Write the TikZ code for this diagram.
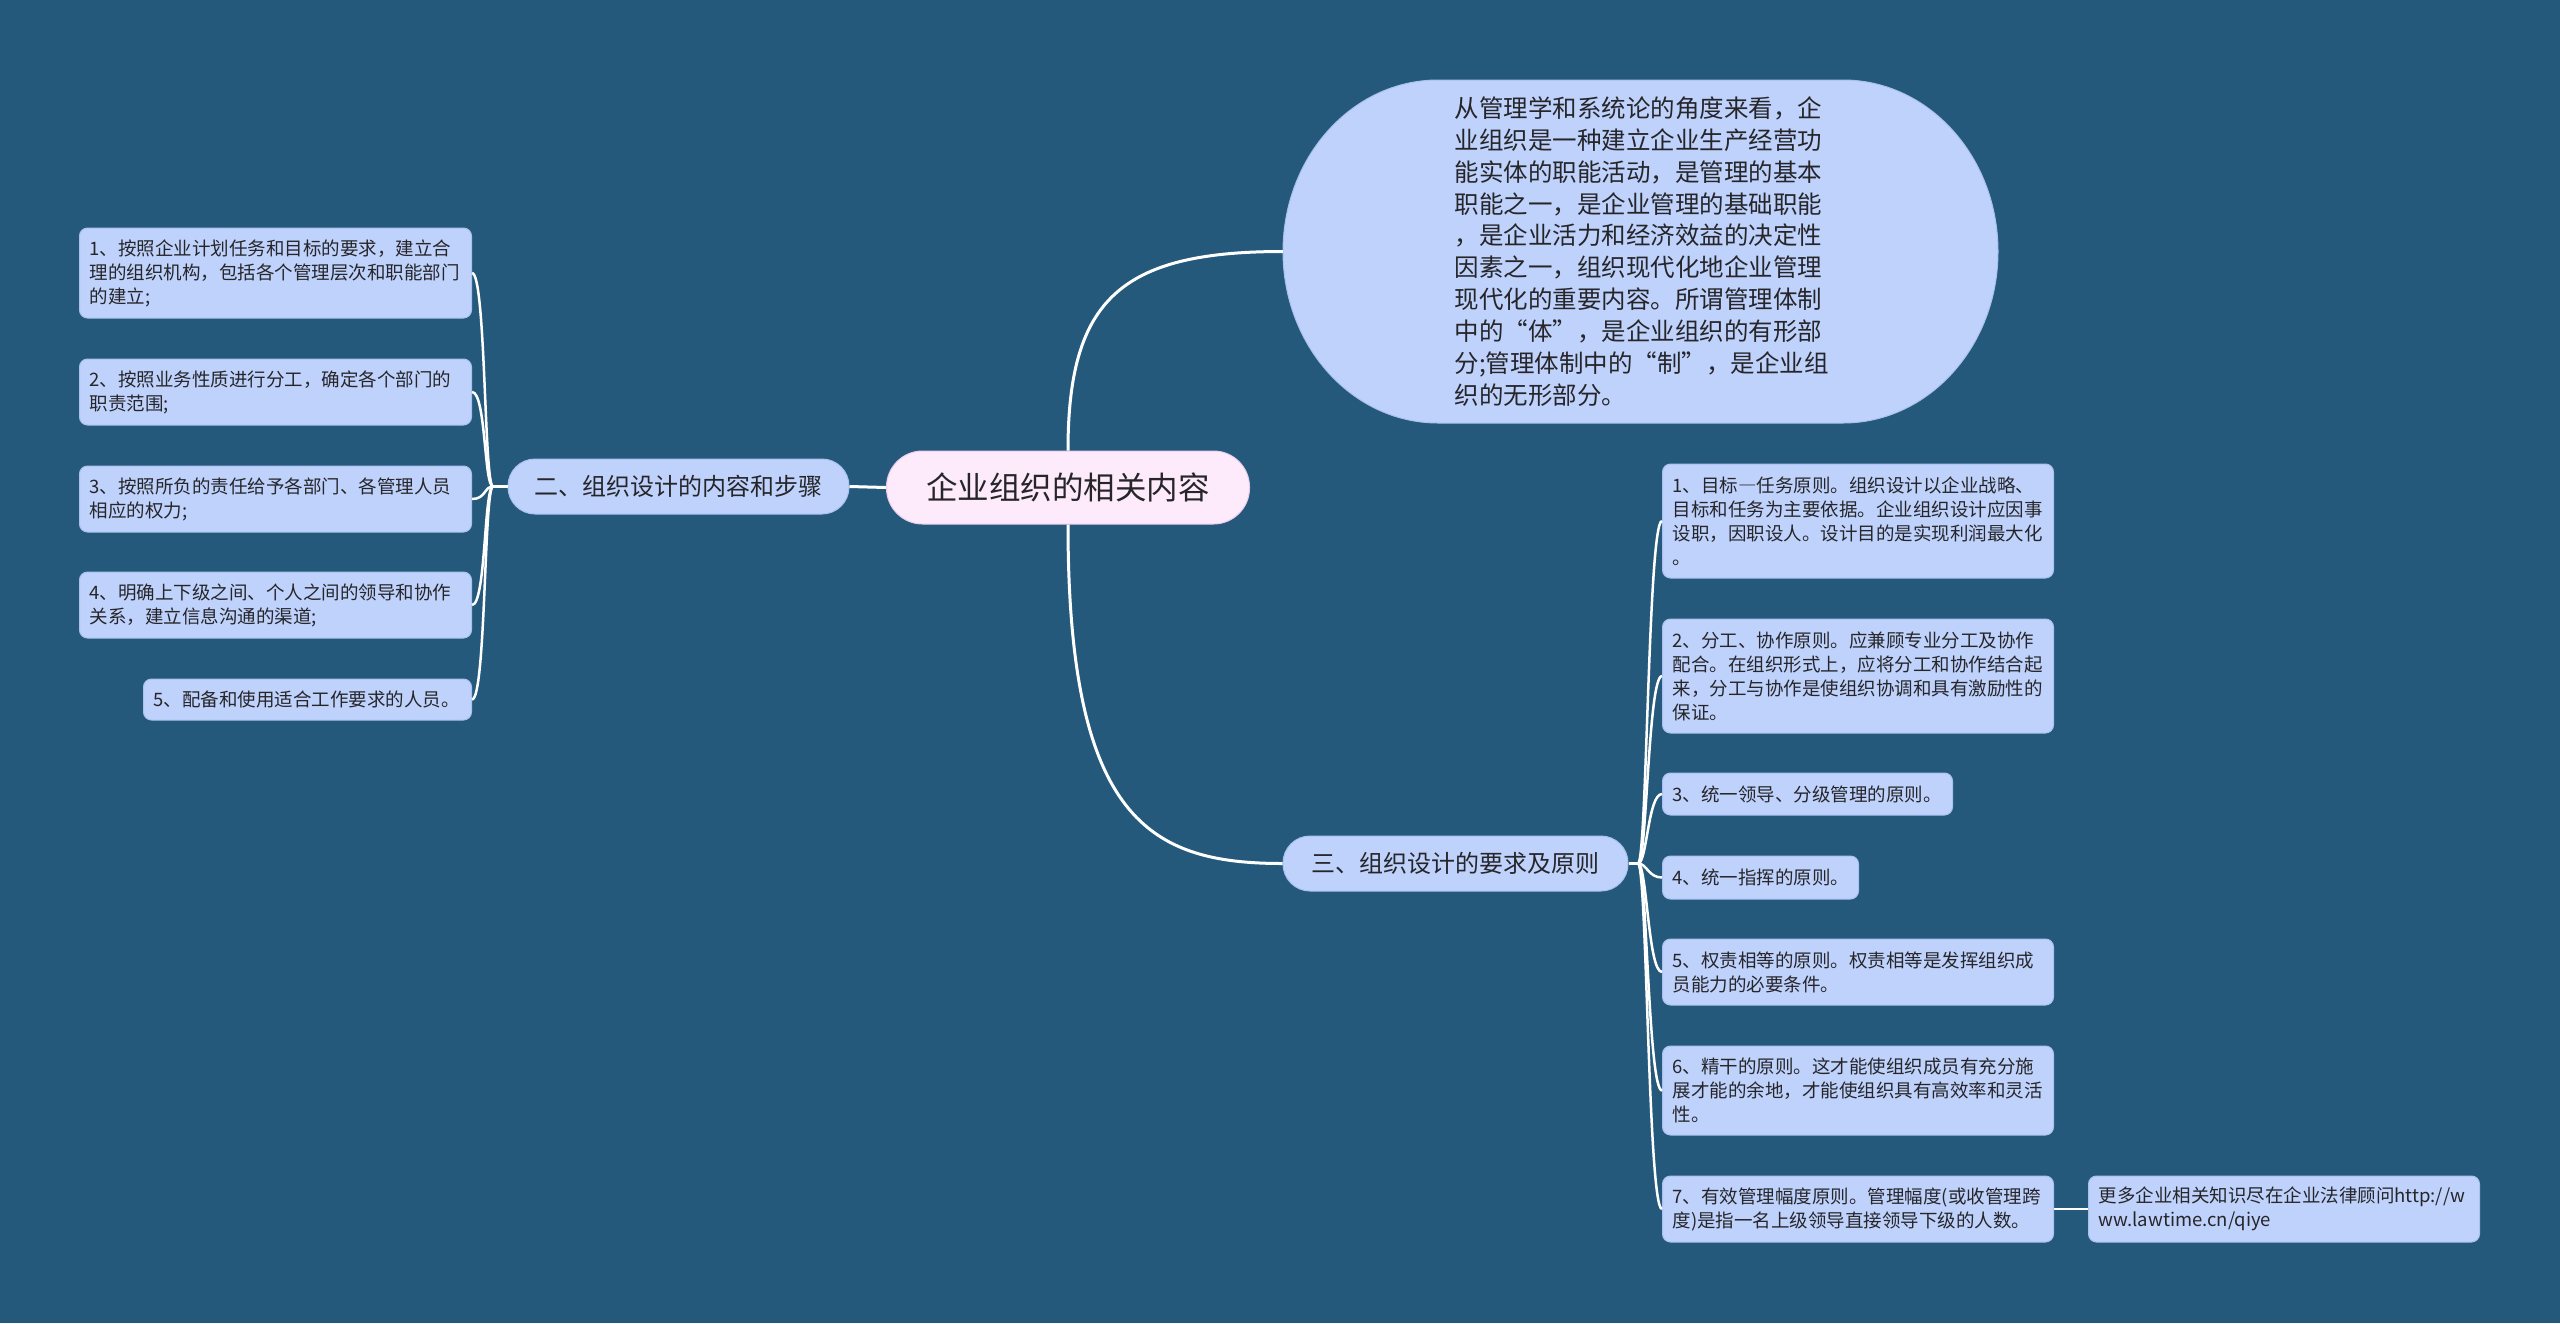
\documentclass[tikz,border=0pt]{standalone}
\usepackage{fontspec}
\setmainfont{Noto Sans CJK SC}
\usetikzlibrary{calc}
\definecolor{bg}{RGB}{36,89,124}
\definecolor{leaffill}{RGB}{191,210,252}
\definecolor{leafborder}{RGB}{170,192,240}
\definecolor{rootfill}{RGB}{253,234,250}
\definecolor{rootborder}{RGB}{235,205,235}
\definecolor{txt}{RGB}{38,38,42}
\newcommand{\fwc}[1]{{\addfontfeature{RawFeature=+fwid}#1}}
\tikzset{
  rootbox/.style={fill=rootfill, draw=rootborder, line width=1pt, rounded corners=36pt,
    minimum width=363pt, minimum height=73pt, inner sep=0pt, text=txt,
    font=\fontsize{31.5}{36}\selectfont},
  subbox/.style={fill=leaffill, draw=leafborder, line width=1pt, rounded corners=27pt,
    minimum height=55pt, inner sep=0pt, text=txt,
    font=\fontsize{24}{28}\selectfont},
  bigbox/.style={minimum width=715pt, minimum height=343pt, inner sep=0pt, text=txt,
    text width=372pt, align=left, font=\fontsize{24.5}{31.9}\selectfont},
  bigshape/.style={fill=leaffill, draw=leafborder, line width=1pt},
  leaf/.style={fill=leaffill, draw=leafborder, line width=1pt, rounded corners=8pt,
    inner xsep=10pt, inner ysep=0pt, text=txt, align=left,
    font=\fontsize{18.5}{24}\selectfont},
  lleaf/.style={leaf, anchor=east},
  rleaf/.style={leaf, anchor=west},
  link/.style={draw=white, line width=3pt},
  leaflink/.style={draw=white, line width=2.5pt},
}
\begin{document}
\begin{tikzpicture}[x=1pt,y=-1pt]
\fill[bg] (0,0) rectangle (2560,1323);
\useasboundingbox (0,0) rectangle (2560,1323);

% big rounded shape with elliptical ends
\path[bigshape] (1438,80) -- (1843,80)
  .. controls (1928.6,80) and (1998,156.8) .. (1998,251.5)
  .. controls (1998,346.2) and (1928.6,423) .. (1843,423)
  -- (1438,423)
  .. controls (1352.4,423) and (1283,346.2) .. (1283,251.5)
  .. controls (1283,156.8) and (1352.4,80) .. (1438,80) -- cycle;

% central and main branches
\node[rootbox] (root) at (1068,487.5) {企业组织的相关内容};
\node[subbox, minimum width=341pt] (n2) at (678.5,486.5) {二、组织设计的内容和步骤};
\node[subbox, minimum width=345pt] (n3) at (1455.5,863.5) {三、组织设计的要求及原则};
\node[bigbox] (ell) at (1640.5,251.5) {从管理学和系统论的角度来看，企\\业组织是一种建立企业生产经营功\\能实体的职能活动，是管理的基本\\职能之一，是企业管理的基础职能\\，是企业活力和经济效益的决定性\\因素之一，组织现代化地企业管理\\现代化的重要内容。所谓管理体制\\中的\fwc{“}体\fwc{”}，是企业组织的有形部\\分;管理体制中的\fwc{“}制\fwc{”}，是企业组\\织的无形部分。};

% left leaves
\node[lleaf, text width=372pt, minimum height=90pt] (l1) at (472,273) {1、按照企业计划任务和目标的要求，建立合\\理的组织机构，包括各个管理层次和职能部门\\的建立;};
\node[lleaf, text width=372pt, minimum height=66pt] (l2) at (472,392) {2、按照业务性质进行分工，确定各个部门的\\职责范围;};
\node[lleaf, text width=372pt, minimum height=66pt] (l3) at (472,499) {3、按照所负的责任给予各部门、各管理人员\\相应的权力;};
\node[lleaf, text width=372pt, minimum height=66pt] (l4) at (472,605) {4、明确上下级之间、个人之间的领导和协作\\关系，建立信息沟通的渠道;};
\node[lleaf, text width=308pt, minimum height=41pt] (l5) at (472,699.5) {5、配备和使用适合工作要求的人员。};

% right leaves
\node[rleaf, text width=371pt, minimum height=114pt] (r1) at (1662,521) {1、目标\fwc{—}任务原则。组织设计以企业战略、\\目标和任务为主要依据。企业组织设计应因事\\设职，因职设人。设计目的是实现利润最大化\\。};
\node[rleaf, text width=371pt, minimum height=114pt] (r2) at (1662,676) {2、分工、协作原则。应兼顾专业分工及协作\\配合。在组织形式上，应将分工和协作结合起\\来，分工与协作是使组织协调和具有激励性的\\保证。};
\node[rleaf, text width=270pt, minimum height=42pt] (r3) at (1662,794) {3、统一领导、分级管理的原则。};
\node[rleaf, text width=176pt, minimum height=43pt] (r4) at (1662,877.5) {4、统一指挥的原则。};
\node[rleaf, text width=371pt, minimum height=66pt] (r5) at (1662,972) {5、权责相等的原则。权责相等是发挥组织成\\员能力的必要条件。};
\node[rleaf, text width=371pt, minimum height=89pt] (r6) at (1662,1090.5) {6、精干的原则。这才能使组织成员有充分施\\展才能的余地，才能使组织具有高效率和灵活\\性。};
\node[rleaf, text width=371pt, minimum height=66pt] (r7) at (1662,1209) {7、有效管理幅度原则。管理幅度(或收管理跨\\度)是指一名上级领导直接领导下级的人数。};
\node[rleaf, text width=371pt, minimum height=66pt] (lk) at (2088,1209) {更多企业相关知识尽在企业法律顾问http://w\\ww.lawtime.cn/qiye};

% connectors
\draw[link] (root.west) -- (n2.east);
\draw[link] (root.north) .. controls (1068,300) and (1120,251.5) .. (ell.west);
\draw[link] (root.south) .. controls (1068,820) and (1150,863.5) .. (n3.west);

\coordinate (jl) at (493,486.5);
\draw[leaflink] (n2.west) -- (jl);
\foreach \n in {l1,l2,l3,l4,l5}
  \draw[leaflink] (jl) .. controls (484,486.5) and ($(\n.east)+(14,0)$) .. (\n.east);

\coordinate (jr) at (1638,863.5);
\draw[leaflink] (n3.east) -- (jr);
\foreach \n in {r1,r2,r3,r4,r5,r6,r7}
  \draw[leaflink] (jr) .. controls (1647,863.5) and ($(\n.west)+(-14,0)$) .. (\n.west);

\draw[leaflink] (r7.east) -- (lk.west);
\end{tikzpicture}
\end{document}
